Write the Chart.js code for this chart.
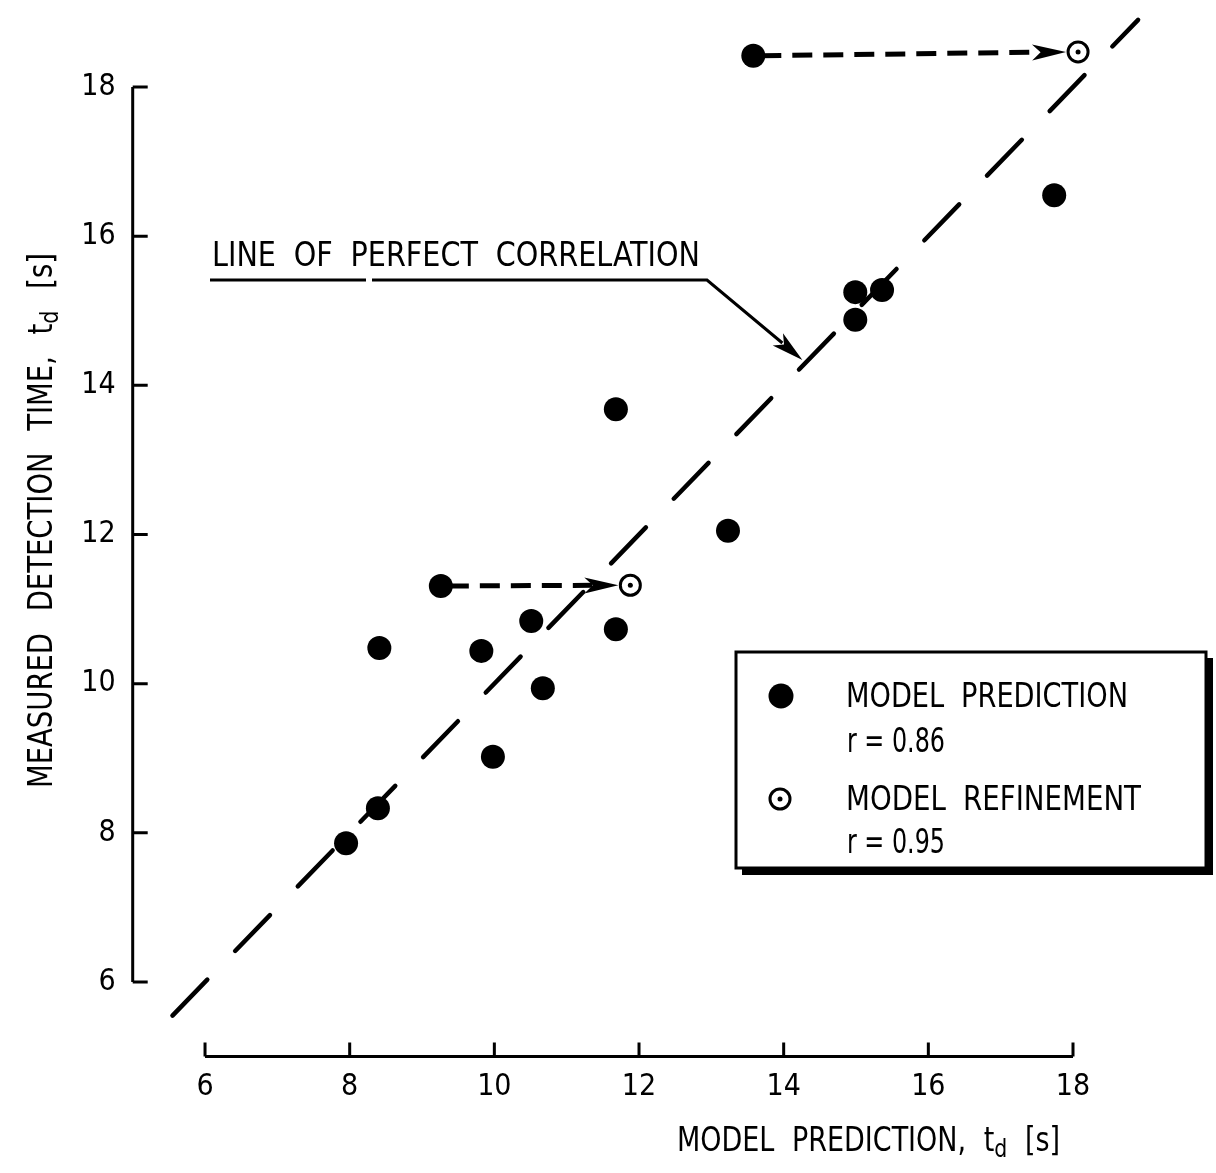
<!DOCTYPE html>
<html>
<head>
<meta charset="utf-8">
<title>Measured detection time vs model prediction</title>
<script src="https://cdn.jsdelivr.net/npm/chart.js@4.4.1/dist/chart.umd.min.js"></script>
<style>
  html, body { margin: 0; padding: 0; background: #fff; }
  #wrap { width: 1216px; height: 1173px; }
</style>
</head>
<body>
<div id="wrap"><canvas id="chart" width="1216" height="1173"></canvas></div>
<script>
// values (seconds)
const predX = [13.58, 17.74, 14.99, 15.36, 14.99, 11.68, 13.23, 9.26, 10.51, 11.68, 8.41, 9.82, 10.67, 9.98, 8.39, 7.95];
const predY = [18.42, 16.55, 15.25, 15.28, 14.88, 13.68, 12.05, 11.31, 10.84, 10.73, 10.48, 10.44, 9.94, 9.02, 8.33, 7.86];
const refX = [18.07, 11.88];
const refY = [18.47, 11.32];
const refFrom = [0, 7]; // which prediction point each refinement replaces
const perfectX = [5.55, 18.9];
const perfectY = [5.55, 18.9];
const xTicks = [6, 8, 10, 12, 14, 16, 18];
const yTicks = [6, 8, 10, 12, 14, 16, 18];
const legendItems = ['MODEL PREDICTION', 'MODEL REFINEMENT'];
const legendR = ['r = 0.86', 'r = 0.95'];
const annotAt = 14.3;

const FONT = '"DejaVu Sans Condensed", "DejaVu Sans", sans-serif';

// draws a run of text parts squeezed/stretched horizontally to width w
function drawFit(ctx, parts, x, y, w, ws) {
  ctx.textAlign = 'left';
  ctx.textBaseline = 'alphabetic';
  ctx.wordSpacing = (ws || 0) + 'px';
  let total = 0;
  for (const [t, size] of parts) {
    ctx.font = size + 'px ' + FONT;
    total += ctx.measureText(t).width;
  }
  ctx.save();
  ctx.translate(x, y);
  ctx.scale(w / total, 1);
  let cx = 0;
  for (const [t, size, dy] of parts) {
    ctx.font = size + 'px ' + FONT;
    ctx.fillText(t, cx, dy || 0);
    cx += ctx.measureText(t).width;
  }
  ctx.restore();
  ctx.wordSpacing = '0px';
}

function arrowHead(ctx, x0, y0, x1, y1, len, half) {
  const a = Math.atan2(y1 - y0, x1 - x0);
  const c = Math.cos(a), s = Math.sin(a);
  ctx.beginPath();
  ctx.moveTo(x1, y1);
  ctx.lineTo(x1 - len * c + half * s, y1 - len * s - half * c);
  ctx.lineTo(x1 - len * 0.75 * c, y1 - len * 0.75 * s);
  ctx.lineTo(x1 - len * c - half * s, y1 - len * s + half * c);
  ctx.closePath();
  ctx.fill();
}

const overlay = {
  id: 'overlay',
  afterDraw(chart) {
    const ctx = chart.ctx;
    const xs = chart.scales.x, ys = chart.scales.y;
    const area = chart.chartArea;
    ctx.save();
    ctx.strokeStyle = '#000';
    ctx.fillStyle = '#000';
    ctx.lineCap = 'butt';

    // detached axes with inward ticks
    ctx.lineWidth = 3;
    ctx.beginPath();
    ctx.moveTo(area.left, ys.getPixelForValue(yTicks[yTicks.length - 1]));
    ctx.lineTo(area.left, ys.getPixelForValue(yTicks[0]));
    yTicks.forEach(v => {
      const py = ys.getPixelForValue(v);
      ctx.moveTo(area.left, py);
      ctx.lineTo(area.left + 15, py);
    });
    ctx.moveTo(xs.getPixelForValue(xTicks[0]), area.bottom);
    ctx.lineTo(xs.getPixelForValue(xTicks[xTicks.length - 1]), area.bottom);
    xTicks.forEach(v => {
      const px = xs.getPixelForValue(v);
      ctx.moveTo(px, area.bottom);
      ctx.lineTo(px, area.bottom - 14);
    });
    ctx.stroke();

    // dashed arrows from prediction to refinement
    refFrom.forEach((pi, i) => {
      const x0 = xs.getPixelForValue(predX[pi]) + 8;
      const y0 = ys.getPixelForValue(predY[pi]);
      const x1 = xs.getPixelForValue(refX[i]) - 12;
      const y1 = ys.getPixelForValue(refY[i]);
      ctx.lineWidth = 5;
      ctx.setLineDash([20, 11]);
      ctx.beginPath();
      ctx.moveTo(x0, y0);
      ctx.lineTo(x1 - 26, y0 + (y1 - y0) * 0.95);
      ctx.stroke();
      ctx.setLineDash([]);
      arrowHead(ctx, x0, y0, x1, y1, 34, 8);
    });

    // annotation
    drawFit(ctx, [['LINE OF PERFECT CORRELATION', 33]], 212, 266, 488, 9);
    const tipX = xs.getPixelForValue(annotAt) - 3;
    const tipY = ys.getPixelForValue(annotAt) - 3;
    ctx.lineWidth = 3;
    ctx.beginPath();
    ctx.moveTo(210, 280);
    ctx.lineTo(366, 280);
    ctx.moveTo(372, 280);
    ctx.lineTo(707, 280);
    ctx.lineTo(tipX - 20, tipY - 17);
    ctx.stroke();
    arrowHead(ctx, 707, 280, tipX, tipY, 32, 8);

    // legend box with drop shadow
    const bx = 736, by = 652, bw = 470, bh = 216;
    ctx.fillRect(bx + 6, by + bh, bw, 7);
    ctx.fillRect(bx + bw, by + 6, 7, bh + 1);
    ctx.lineWidth = 3;
    ctx.strokeRect(bx, by, bw, bh);

    ctx.beginPath();
    ctx.arc(781, 696, 12.5, 0, Math.PI * 2);
    ctx.fill();
    ctx.beginPath();
    ctx.arc(780, 799, 10, 0, Math.PI * 2);
    ctx.lineWidth = 3;
    ctx.stroke();
    ctx.beginPath();
    ctx.arc(780, 799, 2.5, 0, Math.PI * 2);
    ctx.fill();

    drawFit(ctx, [[legendItems[0], 33]], 846, 707, 282, 9);
    drawFit(ctx, [[legendR[0], 33]], 847, 752, 98, 0);
    drawFit(ctx, [[legendItems[1], 33]], 846, 810, 295, 9);
    drawFit(ctx, [[legendR[1], 33]], 847, 853, 98, 0);

    // axis titles
    drawFit(ctx, [['MODEL PREDICTION, t', 33], ['d', 25, 6], [' [s]', 33]], 677, 1151, 383, 10);
    ctx.translate(52, 788);
    ctx.rotate(-Math.PI / 2);
    drawFit(ctx, [['MEASURED DETECTION TIME, t', 33], ['d', 25, 6], [' [s]', 33]], 0, 0, 535, 14);
    ctx.restore();
  }
};

const tickFont = { family: FONT, size: 30 };

new Chart(document.getElementById('chart'), {
  type: 'scatter',
  data: {
    datasets: [
      {
        label: 'centre',
        data: refX.map((x, i) => ({ x, y: refY[i] })),
        pointRadius: 2.5,
        backgroundColor: '#000',
        borderWidth: 0,
        order: 0
      },
      {
        label: legendItems[1],
        data: refX.map((x, i) => ({ x, y: refY[i] })),
        pointRadius: 10,
        backgroundColor: '#fff',
        borderColor: '#000',
        borderWidth: 3,
        order: 1
      },
      {
        label: legendItems[0],
        data: predX.map((x, i) => ({ x, y: predY[i] })),
        pointRadius: 12,
        backgroundColor: '#000',
        borderWidth: 0,
        order: 2
      },
      {
        label: 'perfect correlation',
        type: 'line',
        data: perfectX.map((x, i) => ({ x, y: perfectY[i] })),
        showLine: true,
        borderColor: '#000',
        borderWidth: 4.5,
        borderDash: [50, 40],
        borderCapStyle: 'round',
        pointRadius: 0,
        fill: false,
        clip: false,
        order: 3
      }
    ]
  },
  options: {
    responsive: false,
    animation: false,
    events: [],
    layout: { autoPadding: false, padding: { top: 5, right: 34.5, bottom: 0, left: 0 } },
    plugins: { legend: { display: false }, tooltip: { enabled: false } },
    scales: {
      x: {
        type: 'linear', min: 5, max: 19.5,
        grid: { display: false }, border: { display: false },
        afterFit: s => { s.height = 116.4; s.paddingLeft = 0; s.paddingRight = 0; },
        afterBuildTicks: s => { s.ticks = xTicks.map(v => ({ value: v })); },
        ticks: { color: '#000', font: tickFont, padding: 5, maxRotation: 0, autoSkip: false }
      },
      y: {
        type: 'linear', min: 5, max: 19.1,
        grid: { display: false }, border: { display: false },
        afterFit: s => { s.width = 132.7; s.paddingTop = 0; s.paddingBottom = 0; },
        afterBuildTicks: s => { s.ticks = yTicks.map(v => ({ value: v })); },
        ticks: { color: '#000', font: tickFont, padding: 9, autoSkip: false }
      }
    }
  },
  plugins: [overlay]
});
</script>
</body>
</html>
